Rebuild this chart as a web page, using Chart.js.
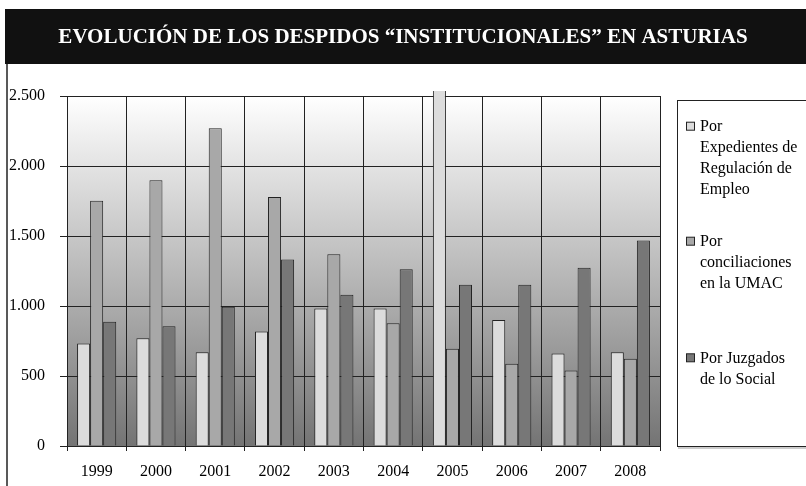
<!DOCTYPE html>
<html><head><meta charset="utf-8">
<script src="https://cdn.jsdelivr.net/npm/chart.js@4"></script>
<style>html,body{margin:0;padding:0;background:#fff;overflow:hidden}</style>
</head><body>
<canvas id="c" width="806" height="486" style="display:block;width:806px;height:486px"></canvas>
<script>
const titleText = 'EVOLUCIÓN DE LOS DESPIDOS “INSTITUCIONALES” EN ASTURIAS';
const years = ['1999','2000','2001','2002','2003','2004','2005','2006','2007','2008'];
const ereValues = [733, 769, 669, 817, 983, 983, 3000, 900, 660, 669];
const umacValues = [1752, 1898, 2269, 1779, 1369, 876, 695, 588, 540, 624];
const juzgadosValues = [888, 855, 995, 1333, 1081, 1262, 1152, 1152, 1274, 1467];
const seriesLabels = [
  ['Por', 'Expedientes de', 'Regulación de', 'Empleo'],
  ['Por', 'conciliaciones', 'en la UMAC'],
  ['Por Juzgados', 'de lo Social']
];
const seriesColors = ['#dcdcdc', '#a8a8a8', '#777777'];
const yTicks = [0, 500, 1000, 1500, 2000, 2500];

const FONT = '"Liberation Serif", "Times New Roman", serif';

const decor = {
  id: 'decor',
  beforeDraw(chart) {
    const {ctx, chartArea: a} = chart;
    ctx.save();
    const g = ctx.createLinearGradient(0, a.top, 0, a.bottom);
    g.addColorStop(0, '#ffffff');
    g.addColorStop(1, '#747474');
    ctx.fillStyle = g;
    ctx.fillRect(a.left, a.top, a.right - a.left, a.bottom - a.top);
    ctx.restore();
  },
  afterDraw(chart) {
    const {ctx} = chart;
    ctx.save();
    // title bar
    ctx.fillStyle = '#111111';
    ctx.fillRect(5, 9, 801, 55);
    ctx.fillStyle = '#ffffff';
    ctx.font = 'bold 21px ' + FONT;
    ctx.textAlign = 'center';
    ctx.textBaseline = 'middle';
    ctx.fillText(titleText, 403, 38);
    // left border
    ctx.strokeStyle = '#222';
    ctx.lineWidth = 1.5;
    ctx.beginPath(); ctx.moveTo(7, 64); ctx.lineTo(7, 486); ctx.stroke();
    // legend box
    ctx.lineWidth = 1;
    ctx.strokeStyle = '#222';
    ctx.strokeRect(677.5, 100.5, 140, 346);
    ctx.strokeStyle = '#999';
    ctx.beginPath(); ctx.moveTo(678, 448); ctx.lineTo(806, 448); ctx.stroke();
    // legend items
    const starts = [126.7, 241.7, 358.3];
    ctx.font = '16px ' + FONT;
    ctx.textAlign = 'left';
    ctx.textBaseline = 'middle';
    chart.data.datasets.forEach((ds, i) => {
      const y0 = starts[i];
      ctx.fillStyle = ds.backgroundColor;
      ctx.fillRect(686.5, y0 - 4.5, 8, 8);
      ctx.strokeStyle = '#222';
      ctx.strokeRect(686.5, y0 - 4.5, 8, 8);
      ctx.fillStyle = '#000';
      seriesLabels[i].forEach((line, j) => {
        ctx.fillText(line, 700, y0 + j * 21);
      });
    });
    ctx.restore();
  }
};

new Chart(document.getElementById('c'), {
  type: 'bar',
  data: {
    labels: years,
    datasets: [ereValues, umacValues, juzgadosValues].map((vals, i) => ({
      label: seriesLabels[i].join(' '),
      data: vals,
      backgroundColor: seriesColors[i],
      borderColor: '#222',
      borderWidth: 1,
      categoryPercentage: 0.66,
      barPercentage: 1.0,
      clip: {left: 0, right: 0, top: 5, bottom: 0}
    }))
  },
  options: {
    responsive: false,
    animation: false,
    devicePixelRatio: 1,
    layout: {padding: {top: 96, right: 146, left: 0, bottom: 0}},
    plugins: {legend: {display: false}, title: {display: false}, tooltip: {enabled: false}},
    scales: {
      x: {
        grid: {offset: true, color: '#222', lineWidth: 1, tickLength: 5},
        border: {color: '#222'},
        ticks: {color: '#000', font: {family: FONT, size: 16}, padding: 11},
        afterFit(s) { s.height = 40; }
      },
      y: {
        min: 0, max: 2500,
        afterBuildTicks(s) { s.ticks = yTicks.map(v => ({value: v})); },
        grid: {color: '#222', lineWidth: 1, tickLength: 7},
        border: {color: '#222'},
        ticks: {
          color: '#000', font: {family: FONT, size: 16}, padding: 15,
          callback: v => String(v).replace(/\B(?=(\d{3})+(?!\d))/g, '.')
        },
        afterFit(s) { s.width = 67; }
      }
    }
  },
  plugins: [decor]
});
</script>
</body></html>
